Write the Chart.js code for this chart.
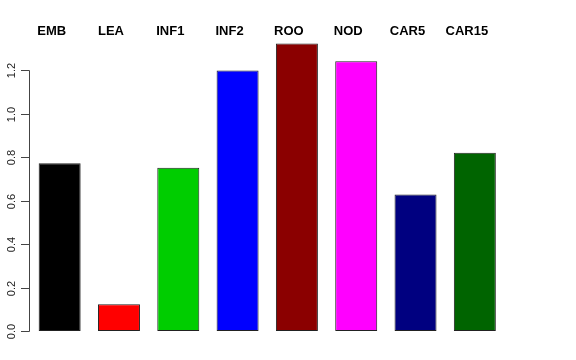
<!DOCTYPE html>
<html>
<head>
<meta charset="utf-8">
<script src="https://cdn.jsdelivr.net/npm/chart.js@4"></script>
<style>
html,body{margin:0;padding:0;background:#fff;}
#c{display:block;}
</style>
</head>
<body>
<canvas id="c" width="576" height="360"></canvas>
<script>
const categories = ["EMB","LEA","INF1","INF2","ROO","NOD","CAR5","CAR15"];
const values = [0.772, 0.123, 0.751, 1.198, 1.323, 1.241, 0.628, 0.82];
const barColors = ["#000000","#ff0000","#00cd00","#0000ff","#8b0000","#ff00ff","#000080","#006400"];
const yTicks = [0.0, 0.2, 0.4, 0.6, 0.8, 1.0, 1.2];
const yTickLabels = ["0.0","0.2","0.4","0.6","0.8","1.0","1.2"];

const rAxisPlugin = {
  id: 'rAxis',
  afterDraw(chart) {
    const ctx = chart.ctx;
    const y = chart.scales.y;
    const x = chart.scales.x;
    ctx.save();
    // axis line
    ctx.strokeStyle = '#444';
    ctx.lineWidth = 1;
    const ax = 29.5;
    ctx.beginPath();
    ctx.moveTo(ax, Math.round(y.getPixelForValue(yTicks[0])) + 0.5);
    ctx.lineTo(ax, Math.round(y.getPixelForValue(yTicks[yTicks.length - 1])) + 0.5);
    ctx.stroke();
    ctx.fillStyle = '#222';
    ctx.font = '11px "Liberation Sans", Arial, sans-serif';
    ctx.textAlign = 'center';
    ctx.textBaseline = 'middle';
    yTicks.forEach((v, i) => {
      const py = Math.round(y.getPixelForValue(v)) + 0.5;
      ctx.beginPath();
      ctx.moveTo(21, py);
      ctx.lineTo(ax, py);
      ctx.stroke();
      ctx.save();
      ctx.translate(12, py);
      ctx.rotate(-Math.PI / 2);
      ctx.fillText(yTickLabels[i], 0, 0);
      ctx.restore();
    });
    // category labels on top
    ctx.fillStyle = '#000';
    ctx.font = 'bold 13px "Liberation Sans", Arial, sans-serif';
    ctx.textAlign = 'center';
    ctx.textBaseline = 'alphabetic';
    categories.forEach((c, i) => {
      const px = x.getPixelForValue(i) - 8;
      ctx.fillText(c, px, 35);
    });
    ctx.restore();
  }
};

new Chart(document.getElementById('c'), {
  type: 'bar',
  data: {
    labels: categories,
    datasets: [{
      data: values,
      backgroundColor: barColors,
      borderColor: '#222',
      borderWidth: 1,
      borderSkipped: false,
      categoryPercentage: 1.0,
      barPercentage: 0.708
    }]
  },
  options: {
    responsive: false,
    devicePixelRatio: 1,
    animation: false,
    layout: { padding: { left: 30, right: 71.5, top: 31, bottom: 29 } },
    plugins: { legend: { display: false }, tooltip: { enabled: false } },
    scales: {
      x: { display: false },
      y: { display: false, min: 0, max: 1.38 }
    }
  },
  plugins: [rAxisPlugin]
});
</script>
</body>
</html>
